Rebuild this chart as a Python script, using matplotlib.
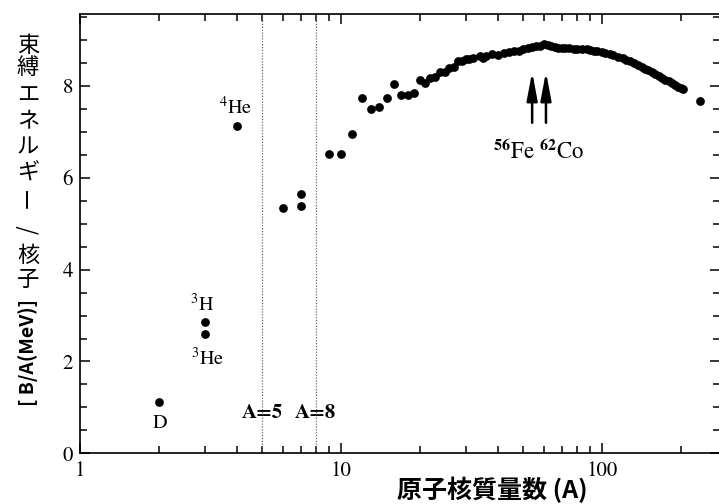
import matplotlib
matplotlib.use("Agg")
import matplotlib.pyplot as plt
from matplotlib.ticker import FixedLocator, MultipleLocator, NullFormatter

plt.rcParams["mathtext.fontset"] = "stix"
plt.rcParams["font.family"] = ["STIXGeneral", "DejaVu Sans"]
SERIF = "STIXGeneral"
CJK = "Noto Sans CJK JP"

# ---------- データ ----------
light_A = [2, 3, 3, 4]
light_BA = [1.11, 2.85, 2.59, 7.13]
light_names = ["D", "$^{3}$H", "$^{3}$He", "$^{4}$He"]
light_offsets = [(1, -15), (-2, 13), (2, -17), (-1, 14)]

mass_A = [6, 7, 7, 9, 10, 11, 12, 13, 14, 15, 16, 17, 18, 19, 20, 21, 22,
          23, 24, 25, 26, 27, 28, 29, 30, 31, 32, 34, 35, 36, 38, 40, 42, 44,
          46, 48, 50, 52, 54, 56, 58, 60, 62, 64, 66, 68, 70, 72, 75, 78, 80,
          84, 88, 90, 93, 96, 100, 103, 107, 110, 115, 120, 124, 128, 133,
          138, 142, 146, 150, 155, 160, 165, 170, 175, 180, 185, 190, 195,
          200, 205, 238]
mass_BA = [5.35, 5.65, 5.39, 6.53, 6.53, 6.96, 7.73, 7.51, 7.54, 7.75, 8.05,
           7.81, 7.81, 7.84, 8.14, 8.06, 8.17,
           8.19, 8.31, 8.30, 8.40, 8.42, 8.55, 8.55, 8.60, 8.58, 8.62, 8.66,
           8.62, 8.66, 8.70, 8.68, 8.72, 8.74, 8.76, 8.76, 8.80, 8.83, 8.85,
           8.88, 8.87, 8.91, 8.90, 8.87, 8.86, 8.84, 8.83, 8.82, 8.82, 8.81,
           8.81, 8.80, 8.80, 8.79, 8.77, 8.76, 8.74, 8.72, 8.70, 8.68, 8.64,
           8.61, 8.57, 8.54, 8.50, 8.46, 8.42, 8.38, 8.34, 8.30, 8.26, 8.22,
           8.18, 8.14, 8.10, 8.06, 8.02, 7.99, 7.96, 7.93, 7.68]

unstable_A = [5, 8]
arrow_A = [54, 61]
x_major = [1, 10, 100]
x_minor = [2, 3, 4, 5, 6, 7, 8, 9, 20, 30, 40, 50, 60, 70, 80, 90, 200]

# ---------- 図 ----------
fig = plt.figure(figsize=(7.19, 5.04), dpi=100)
ax = fig.add_axes([80 / 719, 50.7 / 504, 639.5 / 719, 439.3 / 504])
ax.set_xscale("log")
ax.set_xlim(1, 282)
ax.set_ylim(0, 9.57)

ax.plot(mass_A, mass_BA, "o", color="k", ms=6.3, mec="none")
ax.plot(light_A, light_BA, "o", color="k", ms=6.3, mec="none")
for a, b, name, off in zip(light_A, light_BA, light_names, light_offsets):
    ax.annotate(name, (a, b), textcoords="offset points", xytext=off,
                ha="center", va="center", fontsize=14.5, family=SERIF)

for a in unstable_A:
    ax.axvline(a, color="#666666", lw=0.9, ls=(0, (1, 1.3)))
    ax.text(a, 0.87, f"A={a}", ha="center", va="center", fontsize=15,
            family=SERIF, fontweight="bold")

for a in arrow_A:
    ax.annotate("", xy=(a, 8.31), xytext=(a, 7.2),
                arrowprops=dict(arrowstyle="-|>,head_length=0.85,head_width=0.16",
                                mutation_scale=20, lw=1.8, color="k",
                                shrinkA=0, shrinkB=0))
ax.text(57, 6.57, r"$^{\mathbf{56}}$Fe $^{\mathbf{62}}$Co", ha="center",
        va="center", fontsize=16.5, family=SERIF)

# 軸
ax.xaxis.set_major_locator(FixedLocator(x_major))
ax.xaxis.set_minor_locator(FixedLocator(x_minor))
ax.xaxis.set_minor_formatter(NullFormatter())
ax.set_xticklabels([str(v) for v in x_major])
ax.yaxis.set_major_locator(MultipleLocator(2))
ax.yaxis.set_minor_locator(MultipleLocator(0.5))
ax.tick_params(which="both", direction="in", top=True, right=True,
               width=1.1, labelsize=15)
ax.tick_params(which="major", length=7.5)
ax.tick_params(which="minor", length=5)
ax.tick_params(axis="y", pad=5)
ax.tick_params(axis="x", pad=6)
for lab in ax.get_xticklabels() + ax.get_yticklabels():
    lab.set_family(SERIF)
for s in ("left", "bottom", "top"):
    ax.spines[s].set_linewidth(1.2)
ax.spines["right"].set_visible(False)

fig.text(492 / 719, 1 - 490 / 504, "原子核質量数 (A)", ha="center", va="center",
         fontsize=18, family=CJK, fontweight="bold")

# 縦書きのラベル
ylab_chars = ["束", "縛", "エ", "ネ", "ル", "ギ", "ー", "/", "核", "子"]
ylab_y = [45, 68, 95, 121, 147, 173, 197, 230, 255, 279]
for ch, yy in zip(ylab_chars, ylab_y):
    rot = 90 if ch in ("ー", "/") else 0
    fig.text(28 / 719, 1 - yy / 504, ch, ha="center", va="center",
             fontsize=16, family=CJK, rotation=rot)
fig.text(28 / 719, 1 - 352 / 504, "[ B/A(MeV)]", ha="center", va="center",
         fontsize=14, family=CJK, fontweight="bold", rotation=90)

fig.savefig("out.png", dpi=100)
